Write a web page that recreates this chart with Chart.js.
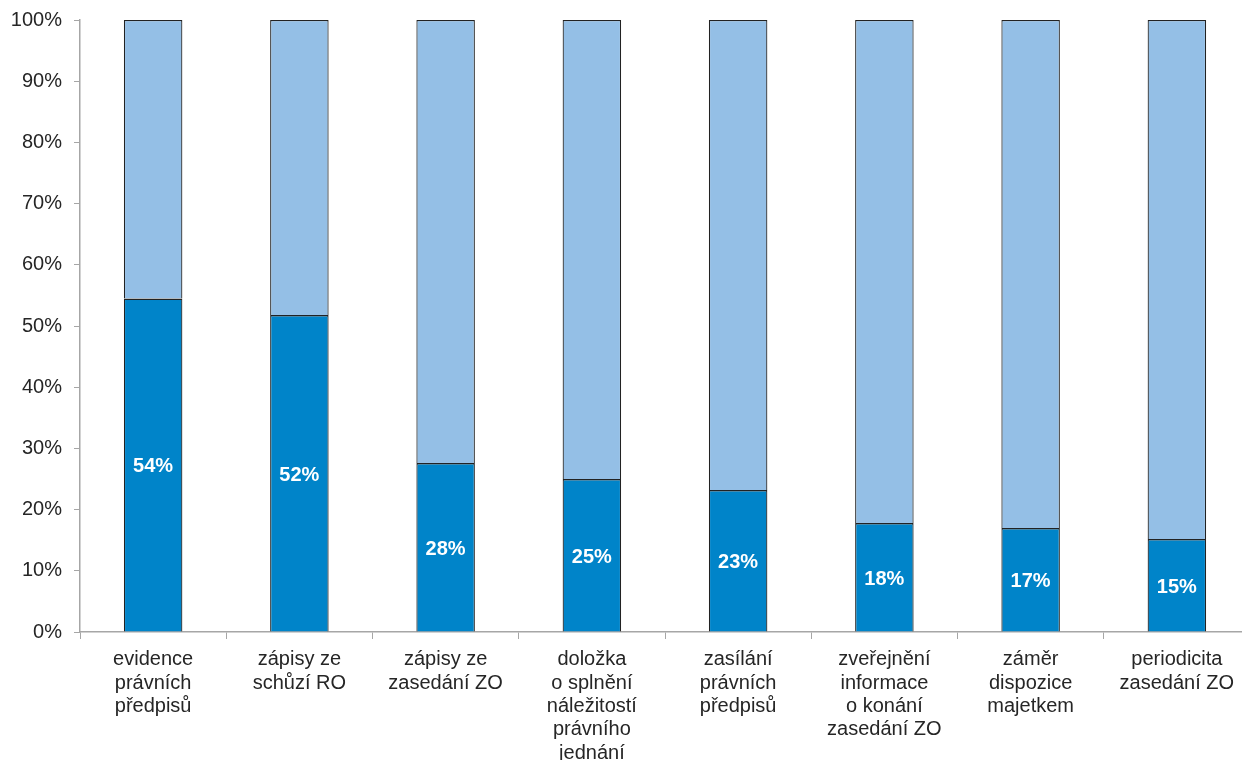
<!DOCTYPE html>
<html><head><meta charset="utf-8">
<script src="https://cdn.jsdelivr.net/npm/chart.js@4/dist/chart.umd.min.js"></script>
<style>html,body{margin:0;padding:0;background:#fff;overflow:hidden}#wrap{width:1250px;height:760px}</style>
</head><body><div id="wrap"><canvas id="c" width="1250" height="760"></canvas></div>
<script>
const categories = [
  ["evidence","právních","předpisů"],
  ["zápisy ze","schůzí RO"],
  ["zápisy ze","zasedání ZO"],
  ["doložka","o splnění","náležitostí","právního","jednání"],
  ["zasílání","právních","předpisů"],
  ["zveřejnění","informace","o konání","zasedání ZO"],
  ["záměr","dispozice","majetkem"],
  ["periodicita","zasedání ZO"]
];
const shareValues = [54.5, 51.8, 27.6, 25.0, 23.2, 17.8, 17.0, 15.2];
const valueLabels = ["54%","52%","28%","25%","23%","18%","17%","15%"];
const restValues = shareValues.map(v => 100 - v);
const yTicks = [0,10,20,30,40,50,60,70,80,90,100];

const labelPlugin = {
  id: 'innerLabels',
  afterDatasetsDraw(chart) {
    const ctx = chart.ctx;
    const meta = chart.getDatasetMeta(0);
    ctx.save();
    ctx.fillStyle = '#ffffff';
    ctx.font = 'bold 20px "Liberation Sans", Arial, sans-serif';
    ctx.textAlign = 'center';
    ctx.textBaseline = 'middle';
    meta.data.forEach((bar, i) => {
      const cy = (bar.y + bar.base) / 2;
      ctx.fillText(valueLabels[i], bar.x, cy + 2);
    });
    ctx.restore();
  }
};

new Chart(document.getElementById('c'), {
  type: 'bar',
  data: {
    labels: categories,
    datasets: [
      { data: shareValues, backgroundColor: '#0084C9', borderColor: '#222222', borderWidth: { top: 1.5, left: 1.2, right: 1.2, bottom: 0 }, borderSkipped: false, barPercentage: 0.4, categoryPercentage: 1 },
      { data: restValues, backgroundColor: '#94BFE6', borderColor: '#222222', borderWidth: { top: 1.2, left: 1.2, right: 1.2, bottom: 0 }, borderSkipped: false, barPercentage: 0.4, categoryPercentage: 1 }
    ]
  },
  options: {
    responsive: false,
    animation: false,
    devicePixelRatio: 1,
    layout: { padding: { top: 20, left: 0, right: 0, bottom: 0 } },
    plugins: { legend: { display: false }, tooltip: { enabled: false } },
    scales: {
      x: {
        stacked: true,
        afterFit: s => { s.height = 128; s.paddingLeft = 0; s.paddingRight = 0; },
        grid: { display: true, offset: true, drawOnChartArea: false, drawTicks: true, tickLength: 7, color: '#A6A6A6' },
        border: { color: '#A6A6A6', width: 1.5 },
        ticks: { color: '#262626', font: { family: '"Liberation Sans", Arial, sans-serif', size: 20, lineHeight: 1.17 }, padding: 9, maxRotation: 0, autoSkip: false }
      },
      y: {
        stacked: true,
        min: 0, max: 100,
        afterFit: s => { s.width = 80; s.paddingTop = 0; s.paddingBottom = 0; },
        afterBuildTicks: s => { s.ticks = yTicks.map(v => ({ value: v })); },
        grid: { display: true, drawOnChartArea: false, drawTicks: true, tickLength: 6, color: '#A6A6A6' },
        border: { color: '#A6A6A6', width: 1.5 },
        ticks: { color: '#262626', font: { family: '"Liberation Sans", Arial, sans-serif', size: 20 }, padding: 12, callback: v => v + '%' }
      }
    }
  },
  plugins: [labelPlugin]
});
</script>
</body></html>
